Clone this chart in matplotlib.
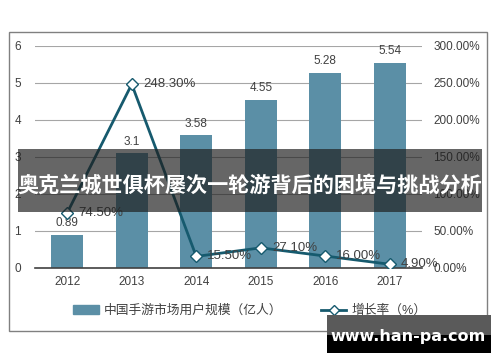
import numpy as np
import matplotlib
matplotlib.use("Agg")
import matplotlib.pyplot as plt
from matplotlib.patches import Rectangle
from matplotlib.lines import Line2D

plt.rcParams['font.family'] = ['Liberation Sans', 'Noto Sans CJK SC', 'DejaVu Sans']

years = ['2012', '2013', '2014', '2015', '2016', '2017']
users = [0.89, 3.1, 3.58, 4.55, 5.28, 5.54]
growth = [74.5, 248.3, 15.5, 27.1, 16.0, 4.9]
growth_labels = ['74.50%', '248.30%', '15.50%', '27.10%', '16.00%', '4.90%']
left_ticks = [0, 1, 2, 3, 4, 5, 6]
right_ticks = [0, 50, 100, 150, 200, 250, 300]
bar_name = '中国手游市场用户规模（亿人）'
line_name = '增长率（%）'
title = '奥克兰城世俱杯屡次一轮游背后的困境与挑战分析'
watermark = 'www.han-pa.com'

bar_color = '#5b8fa6'
line_color = '#165a6e'
text_color = '#404040'

fig = plt.figure(figsize=(5, 3.62), dpi=100)
ax = fig.add_axes([0.07, 0.26, 0.774, 0.613])
ax2 = ax.twinx()

x = np.arange(len(years))
ax.bar(x, users, width=0.5, color=bar_color, zorder=2)
for xi, v in zip(x, users):
    ax.annotate(f'{v:g}', (xi, v), xytext=(0, 4), textcoords='offset points',
                ha='center', va='bottom', fontsize=8.5, color=text_color)

ax.set_xlim(-0.5, 5.5)
ax.set_ylim(0, 6)
ax.set_yticks(left_ticks)
ax.set_xticks(x)
ax.set_xticklabels(years)
ax.yaxis.grid(True, color='#a6a6a6', linewidth=0.8)
ax.set_axisbelow(True)
ax.tick_params(axis='both', length=0, labelsize=8.5, colors=text_color)
ax.tick_params(axis='y', pad=10)
ax.tick_params(axis='x', pad=6)
for s in ['top', 'right', 'left']:
    ax.spines[s].set_visible(False)
ax.spines['bottom'].set_color('#404040')
ax.spines['bottom'].set_linewidth(1.2)

ax2.plot(x, growth, color=line_color, linewidth=2, marker='D', markersize=6,
         markerfacecolor='white', markeredgecolor=line_color, markeredgewidth=1, zorder=3)
for xi, v, lab in zip(x, growth, growth_labels):
    ax2.annotate(lab, (xi, v), xytext=(8, 0), textcoords='offset points',
                 ha='left', va='center', fontsize=9.5, color=text_color)
ax2.set_ylim(0, 300)
ax2.set_yticks(right_ticks)
ax2.set_yticklabels([f'{t:.2f}%' for t in right_ticks])
ax2.tick_params(axis='y', length=0, labelsize=8.5, colors=text_color, pad=8)
for s in ['top', 'right', 'left', 'bottom']:
    ax2.spines[s].set_visible(False)

# outer border
fig.patches.append(Rectangle((9 / 500, 1 - 331 / 362), 478 / 500, 299 / 362,
                             transform=fig.transFigure, fill=False,
                             edgecolor='#808080', linewidth=1))

handles = [Rectangle((0, 0), 1, 1, color=bar_color),
           Line2D([0], [0], color=line_color, linewidth=2, marker='D', markersize=5,
                  markerfacecolor='white', markeredgecolor=line_color)]
fig.legend(handles, [bar_name, line_name], loc='center', bbox_to_anchor=(0.5, 0.141),
           ncol=2, frameon=False, fontsize=9.2, handlelength=2.0, handletextpad=0.4,
           columnspacing=3, labelcolor=text_color)

# title banner
fig.patches.append(Rectangle((18 / 500, 1 - 212 / 362), 464 / 500, 63 / 362,
                             transform=fig.transFigure, facecolor='#1e1e1e',
                             alpha=0.68, edgecolor='none', zorder=10))
fig.text(0.5, 1 - 185 / 362, title, ha='center', va='center', fontsize=15.2,
         fontweight='bold', color='white', family=['Noto Sans CJK SC'], zorder=11)

# watermark
fig.patches.append(Rectangle((327 / 500, 1 - 335 / 362), 164 / 500, 20 / 362,
                             transform=fig.transFigure, facecolor='#5a5a5a',
                             edgecolor='none', zorder=10))
fig.patches.append(Rectangle((327 / 500, 1 - 353 / 362), 164 / 500, 18 / 362,
                             transform=fig.transFigure, facecolor='black',
                             edgecolor='none', zorder=10))
fig.text(408 / 500, 1 - 337 / 362, watermark, ha='center', va='center', fontsize=11.5,
         fontweight='bold', color='white', family=['DejaVu Sans'], zorder=11)

fig.savefig('out.png', dpi=100)
